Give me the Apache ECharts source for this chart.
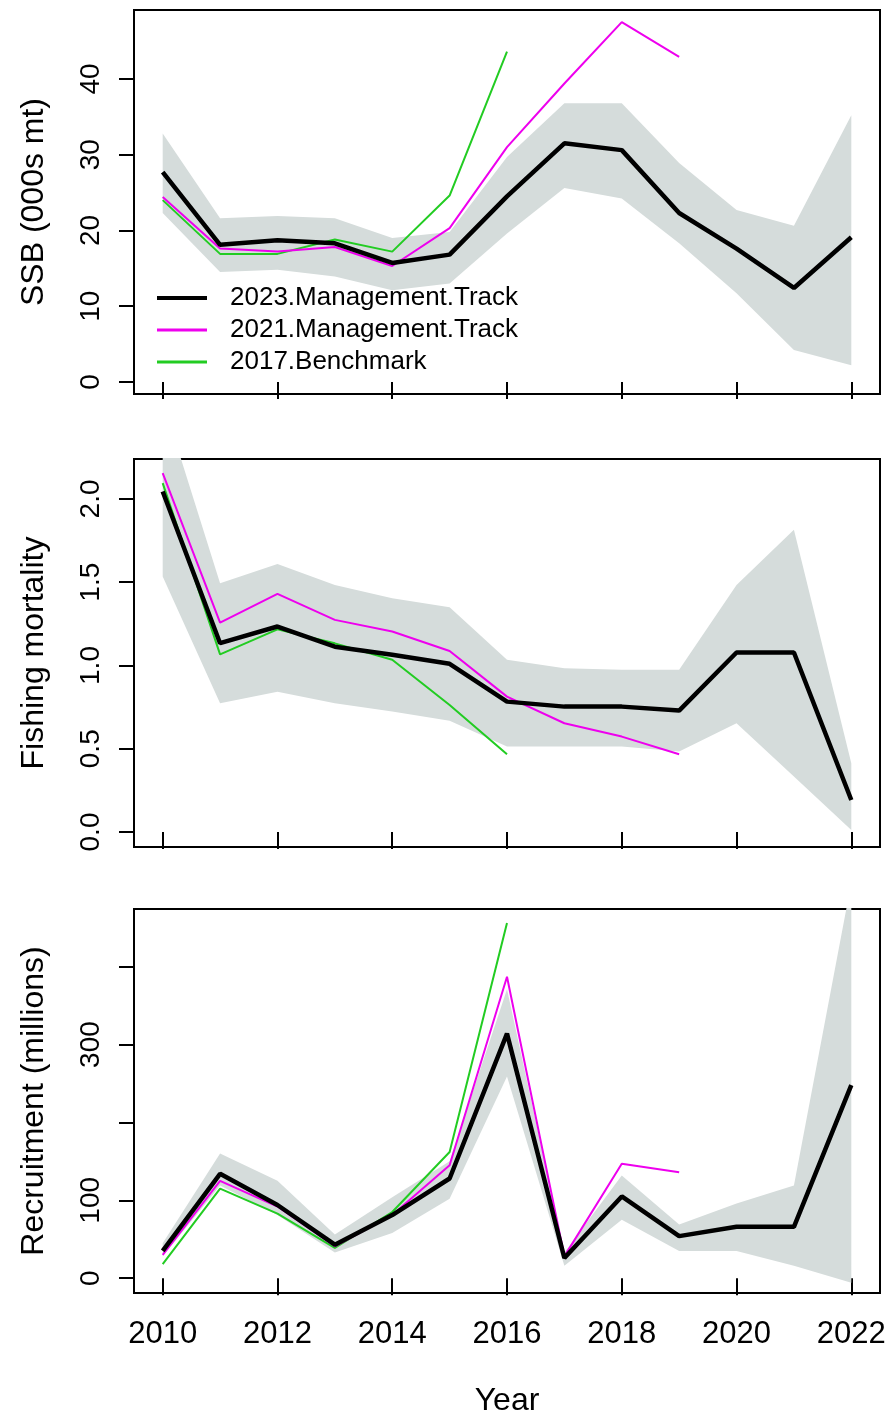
<!DOCTYPE html>
<html>
<head>
<meta charset="utf-8">
<script src="https://cdn.jsdelivr.net/npm/echarts@6/dist/echarts.min.js"></script>
<style>
  html, body { margin: 0; padding: 0; background: #fff; }
  #chart { width: 890px; height: 1418px; }
</style>
</head>
<body>
<div id="chart"></div>
<script>
var years = ['2010','2011','2012','2013','2014','2015','2016','2017','2018','2019','2020','2021','2022'];

// SSB (000s mt)
var ssb2023 = [27.7, 18.1, 18.7, 18.3, 15.7, 16.8, 24.5, 31.5, 30.6, 22.3, 17.6, 12.4, 19.1];
var ssbLow  = [22.3, 14.5, 14.8, 13.9, 12.1, 13.0, 19.6, 25.6, 24.2, 18.3, 11.7, 4.2, 2.2];
var ssbHigh = [32.8, 21.6, 21.9, 21.6, 19.0, 19.8, 29.7, 36.8, 36.8, 28.9, 22.7, 20.6, 35.2];
var ssb2021 = [24.4, 17.6, 17.2, 17.8, 15.3, 20.3, 31.0, 39.4, 47.5, 42.9];
var ssb2017 = [24.0, 16.9, 16.9, 18.8, 17.2, 24.6, 43.6];

// Fishing mortality
var f2023 = [2.045, 1.134, 1.234, 1.113, 1.064, 1.01, 0.783, 0.753, 0.753, 0.729, 1.078, 1.078, 0.192];
var fLow  = [1.534, 0.773, 0.843, 0.773, 0.723, 0.668, 0.513, 0.513, 0.513, 0.483, 0.653, 0.333, 0.012];
var fHigh = [2.59, 1.494, 1.61, 1.484, 1.404, 1.35, 1.034, 0.984, 0.974, 0.974, 1.484, 1.815, 0.413];
var f2021 = [2.155, 1.258, 1.43, 1.274, 1.204, 1.087, 0.813, 0.653, 0.573, 0.467];
var f2017 = [2.095, 1.067, 1.217, 1.133, 1.034, 0.763, 0.467];

// Recruitment (millions)
var rec2023 = [35, 134, 94, 43, 81, 128, 314, 26, 105, 54, 66, 66, 248];
var recLow  = [28, 119, 81, 33, 58, 102, 259, 16, 75, 35, 35, 16, -6];
var recHigh = [45, 160, 125, 56, 104, 150, 371, 33, 132, 69, 96, 119, 508];
var rec2021 = [30, 125, 92, 41, 81, 145, 387, 28, 147, 136];
var rec2017 = [18, 115, 83, 39, 85, 162, 456];

var ssbTicks = [0, 10, 20, 30, 40];
var fTicks = [0, 0.5, 1, 1.5, 2];
var recTicks = [0, 100, 200, 300, 400];
var recLabels = [0, 100, 300];

var seriesNames = ['2023.Management.Track', '2021.Management.Track', '2017.Benchmark'];
var seriesColors = ['#000000', '#ee00ee', '#22cc22'];
var bandColor = '#d5dcdb';

var plainFont = "'Liberation Sans', Arial, sans-serif";

var grids = [
    { left: 134, top: 10, width: 746, height: 384 },
    { left: 134, top: 459, width: 746, height: 388 },
    { left: 134, top: 909, width: 746, height: 388 }
];
grids.forEach(function (g) {
    g.show = true;
    g.borderColor = '#000';
    g.borderWidth = 2;
    g.backgroundColor = 'transparent';
});

function makeXAxis(idx, showLabels) {
    return {
        type: 'category',
        gridIndex: idx,
        data: years,
        boundaryGap: true,
        axisLine: { show: false },
        axisTick: { show: true, interval: 1, alignWithLabel: true, length: 17, lineStyle: { color: '#000', width: 2 } },
        axisLabel: {
            show: showLabels, interval: 1, margin: 26, color: '#000',
            fontSize: 31, fontFamily: plainFont
        },
        name: showLabels ? 'Year' : '',
        nameLocation: 'middle',
        nameGap: 92,
        nameTextStyle: { color: '#000', fontSize: 32, fontFamily: plainFont },
        splitLine: { show: false }
    };
}

function makeYAxis(idx, name, min, max, ticks, labels, fmt) {
    return {
        type: 'value',
        gridIndex: idx,
        min: min,
        max: max,
        name: name,
        nameLocation: 'middle',
        nameRotate: 90,
        nameGap: 84,
        nameTextStyle: { color: '#000', fontSize: 32, fontFamily: plainFont },
        axisLine: { show: false },
        axisTick: { show: true, customValues: ticks, length: 15, lineStyle: { color: '#000', width: 2 } },
        axisLabel: {
            customValues: labels, rotate: 90, margin: 29, color: '#000',
            fontSize: 28, fontFamily: plainFont, formatter: fmt
        },
        splitLine: { show: false }
    };
}

function panelSeries(idx, cur, low, high, prev, bench) {
    var width = high.map(function (h, i) { return h - low[i]; });
    var base = {
        type: 'line', xAxisIndex: idx, yAxisIndex: idx,
        showSymbol: false, symbol: 'none', animation: false
    };
    return [
        Object.assign({}, base, {
            name: 'low' + idx, data: low, stack: 'ci' + idx, stackStrategy: 'all',
            lineStyle: { opacity: 0 }
        }),
        Object.assign({}, base, {
            name: 'band' + idx, data: width, stack: 'ci' + idx, stackStrategy: 'all',
            lineStyle: { opacity: 0 },
            areaStyle: { color: bandColor, opacity: 1 }
        }),
        Object.assign({}, base, {
            name: seriesNames[2], data: bench, z: 3,
            lineStyle: { color: seriesColors[2], width: 2 }, itemStyle: { color: seriesColors[2] }
        }),
        Object.assign({}, base, {
            name: seriesNames[1], data: prev, z: 4,
            lineStyle: { color: seriesColors[1], width: 2 }, itemStyle: { color: seriesColors[1] }
        }),
        Object.assign({}, base, {
            name: seriesNames[0], data: cur, z: 5,
            lineStyle: { color: seriesColors[0], width: 4.5 }, itemStyle: { color: seriesColors[0] }
        })
    ];
}

var chart = echarts.init(document.getElementById('chart'), null, { renderer: 'canvas' });

var option = {
    backgroundColor: '#fff',
    animation: false,
    grid: grids,
    legend: {
        data: [
            { name: seriesNames[0], lineStyle: { width: 4 } },
            { name: seriesNames[1], lineStyle: { width: 3 } },
            { name: seriesNames[2], lineStyle: { width: 3 } }
        ],
        orient: 'vertical',
        left: 155,
        top: 282,
        padding: 0,
        itemWidth: 50,
        itemHeight: 20,
        itemGap: 0,
        itemStyle: { opacity: 0 },
        textStyle: { color: '#000', fontSize: 26, fontFamily: plainFont, lineHeight: 22, padding: [10, 0, 0, 18] },
        selectedMode: false
    },
    xAxis: [makeXAxis(0, false), makeXAxis(1, false), makeXAxis(2, true)],
    yAxis: [
        makeYAxis(0, 'SSB (000s mt)', -1.6, 49.1, ssbTicks, ssbTicks),
        makeYAxis(1, 'Fishing mortality', -0.09, 2.24, fTicks, fTicks, function (v) { return v.toFixed(1); }),
        makeYAxis(2, 'Recruitment (millions)', -19, 474, recTicks, recLabels)
    ],
    series: []
        .concat(panelSeries(0, ssb2023, ssbLow, ssbHigh, ssb2021, ssb2017))
        .concat(panelSeries(1, f2023, fLow, fHigh, f2021, f2017))
        .concat(panelSeries(2, rec2023, recLow, recHigh, rec2021, rec2017))
};

chart.setOption(option);
</script>
</body>
</html>
